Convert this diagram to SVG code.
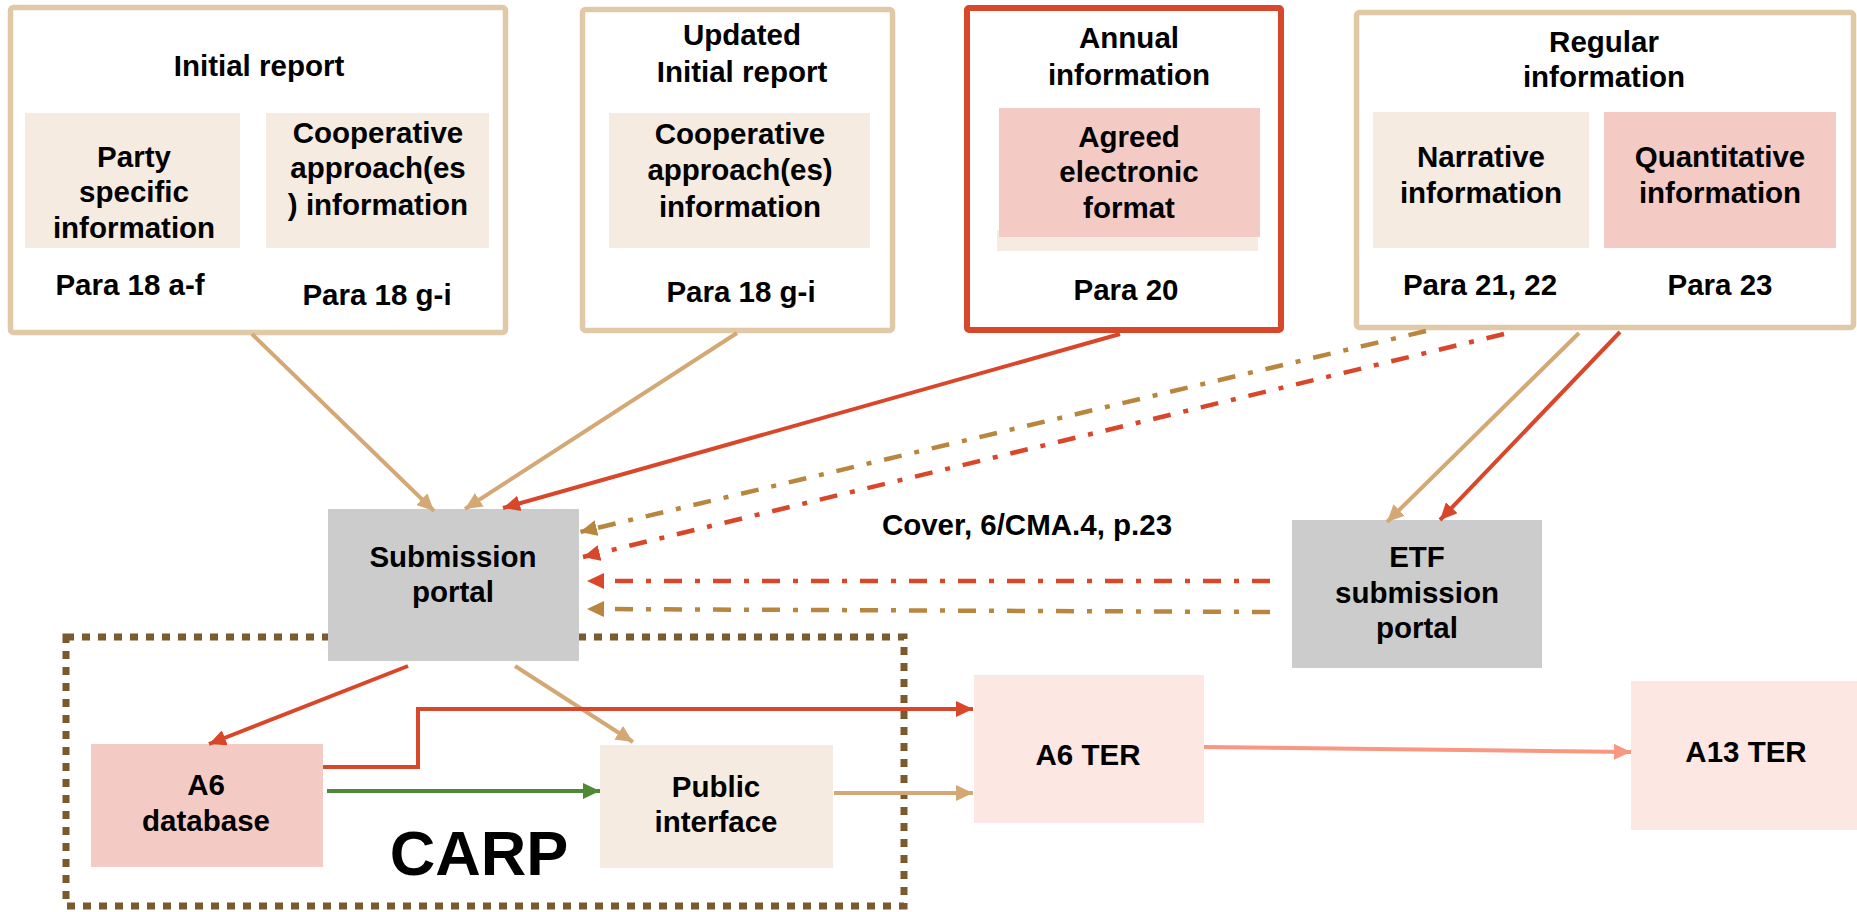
<svg xmlns="http://www.w3.org/2000/svg" width="1857" height="912" viewBox="0 0 1857 912">
<defs>
<style>
text{font-family:"Liberation Sans",Arial,sans-serif;font-weight:bold;font-size:29.5px;fill:#000;text-anchor:middle}
.tanbox{fill:#fff;stroke:#e0c9a6;stroke-width:5.5}
.redbox{fill:#fff;stroke:#d9472b;stroke-width:6}
.beige{fill:#f5ebe1}
.pink{fill:#f4cbc4}
.lpink{fill:#fde7e3}
.gray{fill:#cccccc}
.c{fill:none;stroke-width:4}
.tan{stroke:#d3a874}
.red{stroke:#d9472b}
.dtan{stroke:#b8863f}
.dd{stroke-dasharray:18 13 5 13;stroke-width:4.5}
.green{stroke:#4e8a36}
.salmon{stroke:#f99783}
</style>
<marker id="mTan" markerUnits="userSpaceOnUse" markerWidth="18" markerHeight="16" refX="17" refY="8" orient="auto"><path d="M0,0 L17,8 L0,16 z" fill="#d3a874"/></marker>
<marker id="mRed" markerUnits="userSpaceOnUse" markerWidth="18" markerHeight="16" refX="17" refY="8" orient="auto"><path d="M0,0 L17,8 L0,16 z" fill="#d9472b"/></marker>
<marker id="mDTan" markerUnits="userSpaceOnUse" markerWidth="18" markerHeight="16" refX="17" refY="8" orient="auto"><path d="M0,0 L17,8 L0,16 z" fill="#b8863f"/></marker>
<marker id="mGreen" markerUnits="userSpaceOnUse" markerWidth="18" markerHeight="16" refX="17" refY="8" orient="auto"><path d="M0,0 L17,8 L0,16 z" fill="#4e8a36"/></marker>
<marker id="mSalmon" markerUnits="userSpaceOnUse" markerWidth="18" markerHeight="16" refX="17" refY="8" orient="auto"><path d="M0,0 L17,8 L0,16 z" fill="#f99783"/></marker>
</defs>
<rect width="1857" height="912" fill="#fff"/>

<g id="carp">
<rect x="66" y="637" width="838" height="269" fill="none" stroke="#7a5a2e" stroke-width="7" stroke-dasharray="8 8"/>
<text x="479" y="875" style="font-size:63px">CARP</text>
</g>

<g id="initial-report">
<rect class="tanbox" x="10.5" y="7.5" width="495" height="325" rx="3"/>
<text x="259" y="76">Initial report</text>
<rect class="beige" x="25" y="113" width="215" height="135"/>
<text x="134" y="167">Party</text>
<text x="134" y="202">specific</text>
<text x="134" y="238">information</text>
<rect class="beige" x="266" y="113" width="223" height="135"/>
<text x="378" y="143">Cooperative</text>
<text x="378" y="178">approach(es</text>
<text x="378" y="215">) information</text>
<text x="130" y="295">Para 18 a-f</text>
<text x="377" y="305">Para 18 g-i</text>
</g>

<g id="updated-initial-report">
<rect class="tanbox" x="582.5" y="9.5" width="310" height="321" rx="3"/>
<text x="742" y="45">Updated</text>
<text x="742" y="82">Initial report</text>
<rect class="beige" x="609" y="113" width="261" height="135"/>
<text x="740" y="144">Cooperative</text>
<text x="740" y="180">approach(es)</text>
<text x="740" y="217">information</text>
<text x="741" y="302">Para 18 g-i</text>
</g>

<g id="annual-information">
<rect class="redbox" x="967" y="8" width="314" height="322" rx="2"/>
<text x="1129" y="48">Annual</text>
<text x="1129" y="85">information</text>
<rect class="beige" x="997" y="230" width="261" height="21"/>
<rect class="pink" x="999" y="108" width="261" height="129"/>
<text x="1129" y="147">Agreed</text>
<text x="1129" y="182">electronic</text>
<text x="1129" y="218">format</text>
<text x="1126" y="300">Para 20</text>
</g>

<g id="regular-information">
<rect class="tanbox" x="1356.5" y="12.5" width="497" height="315" rx="3"/>
<text x="1604" y="52">Regular</text>
<text x="1604" y="87">information</text>
<rect class="beige" x="1373" y="112" width="216" height="136"/>
<text x="1481" y="167">Narrative</text>
<text x="1481" y="203">information</text>
<rect class="pink" x="1604" y="112" width="232" height="136"/>
<text x="1720" y="167">Quantitative</text>
<text x="1720" y="203">information</text>
<text x="1480" y="295">Para 21, 22</text>
<text x="1720" y="295">Para 23</text>
</g>

<g id="submission-portal">
<rect class="gray" x="328" y="509" width="251" height="152"/>
<text x="453" y="567">Submission</text>
<text x="453" y="602">portal</text>
</g>

<g id="etf-submission-portal">
<rect class="gray" x="1292" y="520" width="250" height="148"/>
<text x="1417" y="567">ETF</text>
<text x="1417" y="603">submission</text>
<text x="1417" y="638">portal</text>
</g>

<g id="cover-label">
<text x="1027" y="535">Cover, 6/CMA.4, p.23</text>
</g>

<g id="a6-database">
<rect class="pink" x="91" y="744" width="232" height="123"/>
<text x="206" y="795">A6</text>
<text x="206" y="831">database</text>
</g>

<g id="public-interface">
<rect class="beige" x="600" y="745" width="233" height="123"/>
<text x="716" y="797">Public</text>
<text x="716" y="832">interface</text>
</g>

<g id="a6-ter">
<rect class="lpink" x="974" y="675" width="230" height="148"/>
<text x="1088" y="765">A6 TER</text>
</g>

<g id="a13-ter">
<rect class="lpink" x="1631" y="681" width="226" height="149"/>
<text x="1746" y="762">A13 TER</text>
</g>

<g id="connectors">
<line class="c tan" x1="252" y1="334" x2="434" y2="511" marker-end="url(#mTan)"/>
<line class="c tan" x1="737" y1="333" x2="465" y2="509" marker-end="url(#mTan)"/>
<line class="c red" x1="1120" y1="334" x2="503" y2="508" marker-end="url(#mRed)"/>
<line class="c dtan dd" x1="1426" y1="331" x2="580" y2="532" marker-end="url(#mDTan)"/>
<line class="c red dd" x1="1504" y1="334" x2="583" y2="557" marker-end="url(#mRed)"/>
<line class="c red dd" x1="1270" y1="581" x2="587" y2="581" marker-end="url(#mRed)"/>
<line class="c dtan dd" x1="1270" y1="612" x2="587" y2="609" marker-end="url(#mDTan)"/>
<line class="c tan" x1="1579" y1="333" x2="1387" y2="522" marker-end="url(#mTan)"/>
<line class="c red" x1="1620" y1="332" x2="1440" y2="520" marker-end="url(#mRed)"/>
<line class="c red" x1="408" y1="666" x2="209" y2="744" marker-end="url(#mRed)"/>
<line class="c tan" x1="515" y1="666" x2="633" y2="742" marker-end="url(#mTan)"/>
<polyline class="c red" points="323,767 418,767 418,709 973,709" marker-end="url(#mRed)"/>
<line class="c green" x1="327" y1="791" x2="600" y2="791" marker-end="url(#mGreen)"/>
<line class="c tan" x1="834" y1="793" x2="973" y2="793" marker-end="url(#mTan)"/>
<line class="c salmon" x1="1204" y1="747" x2="1631" y2="752" marker-end="url(#mSalmon)"/>
</g>
</svg>
